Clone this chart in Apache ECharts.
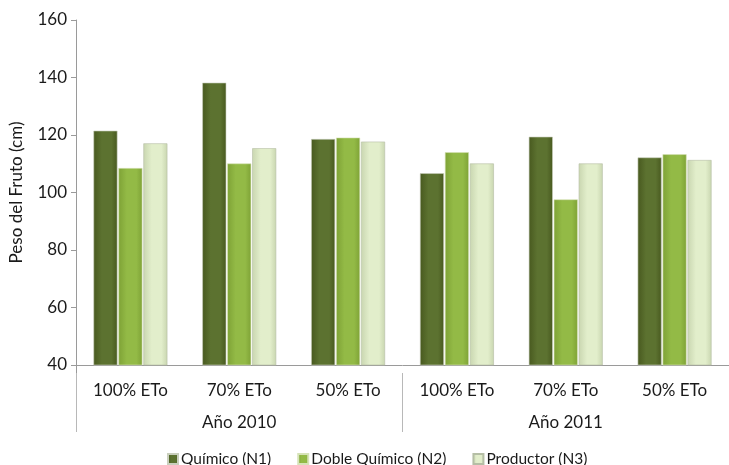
<!DOCTYPE html>
<html>
<head>
<meta charset="utf-8">
<script src="https://cdn.jsdelivr.net/npm/echarts@6/dist/echarts.min.js"></script>
<style>
	html, body { margin: 0; padding: 0; background: #fff; }
	#chart { width: 729px; height: 465px; }
</style>
</head>
<body>
<div id="chart"></div>
<script>
// categorías del eje x
const tratamientos = ['100% ETo', '70% ETo', '50% ETo', '100% ETo', '70% ETo', '50% ETo'];
const anios = ['Año 2010', 'Año 2011'];
// series (peso del fruto)
const quimico = [121.5, 138.2, 118.6, 106.7, 119.4, 112.2];
const dobleQuimico = [108.5, 110.1, 119.1, 114.0, 97.6, 113.3];
const productor = [117.1, 115.4, 117.7, 110.1, 110.1, 111.3];
const nombres = ['Químico (N1)', 'Doble Químico (N2)', 'Productor (N3)'];

const fuente = 'Lato';

// degradado horizontal para simular el relieve de las barras
function relieve(borde, centro) {
	return new echarts.graphic.LinearGradient(0, 0, 1, 0, [
		{ offset: 0, color: borde },
		{ offset: 0.35, color: centro },
		{ offset: 0.75, color: centro },
		{ offset: 1, color: borde }
	]);
}

const chart = echarts.init(document.getElementById('chart'));
const option = {
	animation: false,
	textStyle: { fontFamily: fuente },
	grid: { left: 76, top: 20, width: 662, bottom: 100 },
	legend: {
		top: 446,
		left: 162,
		itemWidth: 10,
		itemHeight: 10,
		itemGap: 26,
		icon: 'rect',
		textStyle: { fontFamily: fuente, fontSize: 15.5, color: '#1a1a1a', padding: [0, 0, 0, -2] },
		data: nombres
	},
	xAxis: [{
		type: 'category',
		data: tratamientos,
		axisLine: { lineStyle: { color: '#9a9a9a', width: 1 } },
		axisTick: {
			show: true,
			length: 8,
			interval: function(i) { return i === 0; },
			lineStyle: { color: '#9a9a9a' }
		},
		axisLabel: { fontFamily: fuente, fontSize: 17, color: '#1a1a1a', margin: 17 }
	}, {
		type: 'category',
		data: anios,
		position: 'bottom',
		offset: 8,
		axisLine: { show: false },
		axisTick: { show: true, length: 59, lineStyle: { color: '#b8b8b8' } },
		axisLabel: { fontFamily: fuente, fontSize: 17, color: '#1a1a1a', margin: 41 }
	}],
	yAxis: {
		type: 'value',
		min: 40,
		max: 160,
		interval: 20,
		name: 'Peso del Fruto (cm)',
		nameLocation: 'middle',
		nameGap: 51,
		nameRotate: 90,
		nameTextStyle: { fontFamily: fuente, fontSize: 17, color: '#1a1a1a' },
		axisLine: { show: true, lineStyle: { color: '#9a9a9a' } },
		axisTick: { show: true, inside: false, length: 5, lineStyle: { color: '#9a9a9a' } },
		splitLine: { show: false },
		axisLabel: { fontFamily: fuente, fontSize: 17, color: '#1a1a1a', margin: 9 }
	},
	series: [{
		name: nombres[0],
		type: 'bar',
		xAxisIndex: 0,
		data: quimico,
		barWidth: 24,
		barGap: '4%',
		itemStyle: { color: relieve('#48591f', '#5c7230'), borderColor: '#c9cfbd', borderWidth: 0.6 }
	}, {
		name: nombres[1],
		type: 'bar',
		xAxisIndex: 0,
		data: dobleQuimico,
		barWidth: 24,
		barGap: '4%',
		itemStyle: { color: relieve('#7ea236', '#93ba46'), borderColor: '#d6e3b8', borderWidth: 0.6 }
	}, {
		name: nombres[2],
		type: 'bar',
		xAxisIndex: 0,
		data: productor,
		barWidth: 24,
		barGap: '4%',
		itemStyle: { color: relieve('#c9d6b0', '#e2eecb'), borderColor: '#b5bea5', borderWidth: 0.6 }
	}]
};
chart.setOption(option);
</script>
</body>
</html>
